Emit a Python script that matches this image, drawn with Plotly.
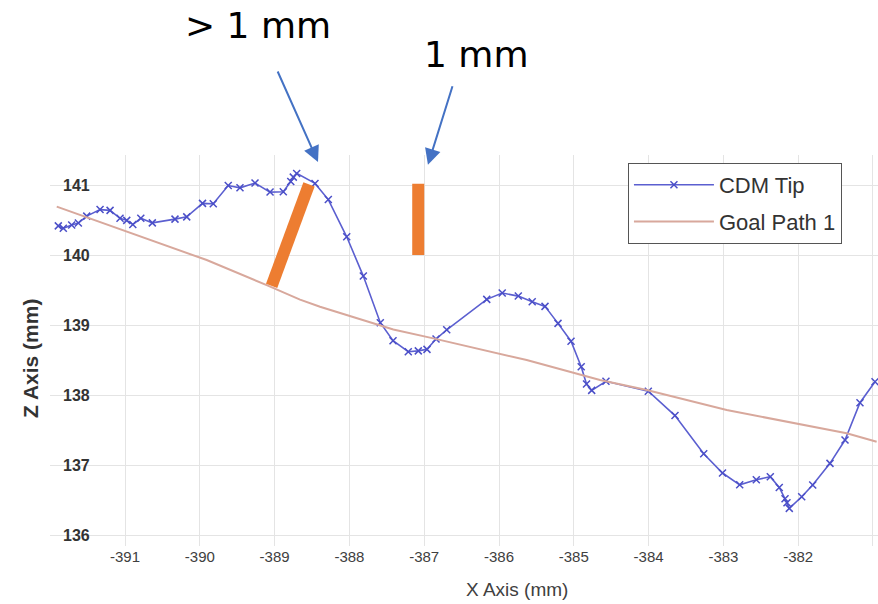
import plotly.graph_objects as go

# ---------------- data ----------------
cdm_x = [-391.892, -391.825, -391.713, -391.624, -391.512, -391.334, -391.200, -391.067,
         -390.977, -390.896, -390.789, -390.635, -390.332, -390.175, -389.964, -389.820,
         -389.620, -389.463, -389.262, -389.061, -388.884, -388.784, -388.750, -388.705,
         -388.460, -388.282, -388.036, -387.814, -387.587, -387.417, -387.213, -387.079,
         -386.963, -386.842, -386.699, -386.164, -385.957, -385.742, -385.556, -385.385,
         -385.211, -385.037, -384.901, -384.830, -384.761, -384.570, -384.004, -383.647,
         -383.263, -383.012, -382.782, -382.560, -382.373, -382.253, -382.176, -382.150,
         -382.119, -381.953, -381.806, -381.575, -381.374, -381.174, -380.973]
cdm_z = [140.417, 140.383, 140.429, 140.457, 140.557, 140.650, 140.639, 140.526,
         140.496, 140.436, 140.526, 140.460, 140.514, 140.546, 140.739, 140.733,
         140.993, 140.961, 141.029, 140.900, 140.904, 141.050, 141.114, 141.167,
         141.024, 140.793, 140.261, 139.700, 139.033, 138.776, 138.619, 138.631,
         138.653, 138.800, 138.933, 139.367, 139.457, 139.414, 139.333, 139.267,
         139.024, 138.769, 138.404, 138.157, 138.067, 138.197, 138.054, 137.707,
         137.160, 136.886, 136.717, 136.790, 136.833, 136.679, 136.517, 136.461,
         136.381, 136.547, 136.714, 137.024, 137.357, 137.890, 138.190]

goal_x = [-391.913, -390.354, -389.908, -389.106, -388.660, -388.393, -387.413,
          -386.878, -385.630, -384.650, -384.025, -382.956, -381.352, -380.951]
goal_z = [140.693, 140.096, 139.929, 139.571, 139.364, 139.261, 138.936,
          138.810, 138.500, 138.214, 138.071, 137.786, 137.453, 137.333]

x_ticks = [-391, -390, -389, -388, -387, -386, -385, -384, -383, -382, -381]
z_ticks = [136, 137, 138, 139, 140, 141]

# distance markers (orange bars)
gap_slant_x = [-389.04, -388.54]
gap_slant_z = [139.56, 141.01]
gap_vert_x = [-387.08, -387.08]
gap_vert_z = [140.00, 141.02]

# arrow heads
arrow1_head = (-388.42, 141.33)
arrow2_head = (-386.95, 141.29)

label_big = "> 1 mm"
label_small = "1 mm"

# ---------------- figure ----------------
fig = go.Figure()

fig.add_trace(go.Scatter(
    x=cdm_x, y=cdm_z, mode="lines+markers", name="CDM Tip",
    line=dict(color="#5b5fd0", width=1.6),
    marker=dict(symbol="x-thin", size=7, line=dict(color="#4b4fc8", width=1.5)),
    legendgroup="a",
))
fig.add_trace(go.Scatter(
    x=goal_x, y=goal_z, mode="lines", name="Goal Path 1",
    line=dict(color="#d8a89c", width=2),
    legendgroup="b",
))

orange = "#ED7D31"
fig.add_shape(type="line", xref="x", yref="y",
              x0=gap_slant_x[0], y0=gap_slant_z[0], x1=gap_slant_x[1], y1=gap_slant_z[1],
              line=dict(color=orange, width=12))
fig.add_shape(type="line", xref="x", yref="y",
              x0=gap_vert_x[0], y0=gap_vert_z[0], x1=gap_vert_x[1], y1=gap_vert_z[1],
              line=dict(color=orange, width=12))

arrow_col = "#4472C4"
fig.add_annotation(x=arrow1_head[0], y=arrow1_head[1], xref="x", yref="y",
                   ax=-41, ay=-92, showarrow=True, arrowhead=2, arrowsize=1.6,
                   arrowwidth=2, arrowcolor=arrow_col, text="", standoff=0)
fig.add_annotation(x=arrow2_head[0], y=arrow2_head[1], xref="x", yref="y",
                   ax=25, ay=-80, showarrow=True, arrowhead=2, arrowsize=1.6,
                   arrowwidth=2, arrowcolor=arrow_col, text="", standoff=0)

fig.add_annotation(x=0.2512, y=1.3862, xref="paper", yref="paper",
                   text=label_big, showarrow=False, xanchor="center", yanchor="top",
                   borderpad=0,
                   font=dict(family="DejaVu Sans", size=36, color="black"))
fig.add_annotation(x=0.5145, y=1.2558, xref="paper", yref="paper",
                   text=label_small, showarrow=False, xanchor="center", yanchor="middle",
                   borderpad=0,
                   font=dict(family="DejaVu Sans", size=36, color="black"))

# axis titles
fig.add_annotation(x=0.564, y=-0.1125, xref="paper", yref="paper",
                   text="X Axis (mm)", showarrow=False, xanchor="center", yanchor="middle",
                   font=dict(family="Liberation Sans", size=19, color="#404040"))
fig.add_annotation(x=-0.0242, y=0.4808, xref="paper", yref="paper",
                   text="Z Axis (mm)", showarrow=False, xanchor="center", yanchor="middle",
                   textangle=-90,
                   font=dict(family="Liberation Sans", size=21, color="#333333",
                             weight="bold"))

fig.update_layout(
    width=878, height=604,
    margin=dict(l=50, r=0, t=155, b=58),
    paper_bgcolor="white", plot_bgcolor="white",
    font=dict(family="Liberation Sans", color="#404040"),
    showlegend=True,
    legend=dict(x=0.698, y=0.9795, xanchor="left", yanchor="top",
                bgcolor="white", bordercolor="#555555", borderwidth=1,
                font=dict(size=22, color="#333333"),
                itemwidth=80, tracegroupgap=5, traceorder="grouped"),
    xaxis=dict(range=[-392.003, -380.933], tickvals=x_ticks,
               ticktext=[str(v) for v in x_ticks],
               showgrid=True, gridcolor="#e4e4e4", gridwidth=1,
               zeroline=False, showline=False, ticks="",
               tickfont=dict(size=15, color="#404040")),
    yaxis=dict(range=[135.843, 141.43], tickvals=z_ticks,
               ticktext=[str(v) for v in z_ticks],
               showgrid=True, gridcolor="#e4e4e4", gridwidth=1,
               zeroline=False, showline=False, ticks="",
               ticklabelposition="inside", ticklabelstandoff=10,
               tickfont=dict(size=16, color="#333333", weight="bold")),
)

fig.write_html("out.html",
               config={"displayModeBar": False},
               post_script="document.body.style.margin='0px';")
